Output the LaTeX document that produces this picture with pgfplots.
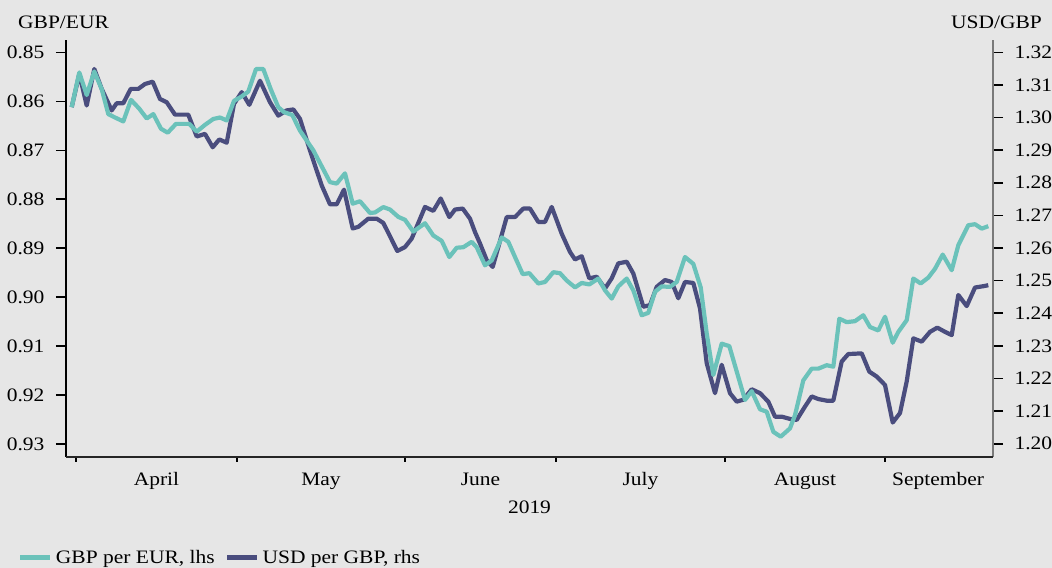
\documentclass[border=0pt]{standalone}
\usepackage{fontspec}
\setmainfont{Liberation Serif}[FakeStretch=1.13]
\usepackage{pgfplots}
\pgfplotsset{compat=1.18}
\definecolor{bgc}{HTML}{E6E6E6}
\definecolor{tealc}{HTML}{6BC2BA}
\definecolor{navyc}{HTML}{4A4D7E}
\definecolor{raxis}{HTML}{7A7A7A}
\pgfplotsset{
  common/.style={
    at={(66bp,111bp)}, anchor=south west,
    width=927bp, height=417bp, scale only axis,
    xmin=66, xmax=993,
    tick align=outside,
    major tick length=10bp,
    tick style={line width=1.6bp, black},
    axis line style={line width=1.4bp, -},
    clip=false,
  },
}
\begin{document}
\fontsize{19bp}{23bp}\selectfont
\begin{tikzpicture}
\fill[bgc] (0,0) rectangle (1052bp,568bp);
\useasboundingbox (0,0) rectangle (1052bp,568bp);
% right axis: USD per GBP
\begin{axis}[common,
  axis x line=none, axis y line*=right,
  axis line style={raxis},
  ymin=1.19593, ymax=1.32379,
  ytick={1.20,1.21,1.22,1.23,1.24,1.25,1.26,1.27,1.28,1.29,1.30,1.31,1.32},
  yticklabel style={xshift=5bp, /pgf/number format/fixed, /pgf/number format/fixed zerofill, /pgf/number format/precision=2, /pgf/number format/assume math mode=true},
  legend style={at={(axis description cs:-0.052,-0.242)}, anchor=west, draw=none, fill=none,
    inner sep=0pt, legend columns=2,
    /tikz/every even column/.append style={column sep=7bp},
    nodes={inner sep=3bp}},
  legend image code/.code={\draw[#1, line width=5bp] (0bp,0bp) -- (30bp,0bp);},
]
\addlegendimage{tealc}
\addlegendentry{GBP per EUR, lhs}
\addplot[navyc, line width=4.2bp, line join=round] coordinates {
(71.7,1.3032) (79.3,1.3134) (86.7,1.3037) (94.3,1.3149) (101.7,1.3088) (111.7,1.3022)
(116.7,1.3044) (123.3,1.3044) (130.7,1.3088) (138.3,1.3088) (145,1.3103) (152.7,1.3110)
(160,1.3057) (166.7,1.3047) (175,1.3009) (188.3,1.3009) (196.7,1.2942) (205,1.2950)
(212.7,1.2909) (219.3,1.2933) (226.7,1.2923) (234,1.3042) (241.7,1.3078) (249.3,1.3039)
(260,1.3113) (270,1.3047) (278.3,1.3006) (286.7,1.3022) (293.3,1.3025) (300,1.2996)
(310,1.2899) (321.7,1.2792) (330,1.2734) (336.7,1.2734) (344,1.2779) (352.7,1.2660)
(358.3,1.2665) (368.3,1.2690) (376.7,1.2690) (383.3,1.2677) (390,1.2636) (397.3,1.2591)
(405,1.2603) (411.7,1.2629) (418.3,1.2677) (425,1.2726) (433.3,1.2714) (440.7,1.2752)
(449.3,1.2695) (455,1.2718) (462.7,1.2721) (470,1.2690) (475,1.2649) (480,1.2614)
(486.7,1.2563) (492.7,1.2542) (498.3,1.2603) (506.7,1.2695) (515,1.2695) (523.3,1.2721)
(530,1.2721) (538.3,1.2680) (545,1.2680) (551.7,1.2726) (561.7,1.2644) (570,1.2588)
(575,1.2565) (581.7,1.2575) (589.3,1.2507) (596.7,1.2512) (605,1.2476) (611.7,1.2507)
(618.3,1.2553) (626.7,1.2558) (633.3,1.2522) (643.3,1.2420) (650,1.2425) (656.7,1.2481)
(665,1.2502) (671.7,1.2496) (678.3,1.2446) (685,1.2496) (693.3,1.2493) (700,1.2415)
(706.7,1.2247) (715,1.2155) (721.7,1.2242) (730,1.2155) (736.7,1.2129) (743.3,1.2135)
(751.7,1.2167) (760,1.2155) (768.3,1.2129) (775,1.2083) (781.7,1.2083) (790,1.2076)
(796.7,1.2073) (805,1.2114) (811.7,1.2145) (818.3,1.2137) (826.7,1.2132) (833.3,1.2132)
(841.7,1.2252) (848.3,1.2275) (861.7,1.2277) (869.3,1.2221) (876.7,1.2206) (885,1.2180)
(892.7,1.2065) (900,1.2094) (906.7,1.2191) (913.3,1.2323) (921.7,1.2313) (930,1.2343)
(937.3,1.2356) (945,1.2343) (951.7,1.2333) (958.3,1.2456) (966.7,1.2422) (975,1.2479)
(983.3,1.2483) (988.3,1.2486)
};
\addlegendentry{USD per GBP, rhs}
\end{axis}
% left axis: GBP per EUR (inverted)
\begin{axis}[common,
  axis x line=none, axis y line*=left,
  axis line style={black},
  y dir=reverse,
  ymin=0.84747, ymax=0.93265,
  ytick={0.85,0.86,0.87,0.88,0.89,0.90,0.91,0.92,0.93},
  yticklabel style={xshift=-5bp, /pgf/number format/fixed, /pgf/number format/fixed zerofill, /pgf/number format/precision=2, /pgf/number format/assume math mode=true},
]
\addplot[tealc, line width=4.2bp, line join=round] coordinates {
(71.7,0.8612) (79.3,0.8541) (86.7,0.8587) (94.3,0.8539) (101.7,0.8575) (108.3,0.8626)
(115,0.8633) (123.3,0.8641) (131,0.8597) (139.3,0.8615) (146.7,0.8635) (153.3,0.8626)
(161,0.8656) (167.7,0.8664) (176,0.8646) (189.3,0.8646) (196.7,0.8662) (205,0.8648)
(213.3,0.8636) (220,0.8633) (226.7,0.8639) (234,0.8599) (241.7,0.8590) (248.3,0.8580)
(256,0.8534) (263.3,0.8534) (270.7,0.8575) (278.3,0.8612) (284,0.8622) (292.3,0.8628)
(300,0.8660) (313.3,0.8700) (330,0.8765) (336.7,0.8768) (345,0.8747) (352.7,0.8809)
(360,0.8804) (370,0.8828) (375,0.8827) (383.3,0.8816) (390,0.8821) (398.3,0.8836)
(405,0.8842) (413.3,0.8866) (425,0.8849) (433.3,0.8874) (441.7,0.8885) (449.3,0.8918)
(456.7,0.8899) (463.3,0.8898) (471.7,0.8887) (476.7,0.8898) (485,0.8935) (491.7,0.8925)
(501.7,0.8878) (508.3,0.8887) (515,0.8918) (522.7,0.8953) (529.3,0.8951) (538.3,0.8972)
(545,0.8969) (553.3,0.8949) (560,0.8951) (566.7,0.8966) (575,0.8980) (581.7,0.8971)
(589.3,0.8974) (598.3,0.8962) (605,0.8986) (611.7,0.9003) (618.3,0.8978) (626.7,0.8962)
(633.3,0.8986) (641.7,0.9037) (648.3,0.9032) (655,0.8989) (661.7,0.8978) (670,0.8979)
(676.7,0.8969) (685,0.8918) (693.3,0.8932) (700.7,0.8980) (706.7,0.9074) (713.3,0.9159)
(721.7,0.9095) (729.3,0.9100) (738.3,0.9163) (745,0.9210) (751.7,0.9192) (760,0.9229)
(766.7,0.9234) (773.3,0.9275) (780.7,0.9285) (790,0.9268) (795,0.9241) (803.3,0.9170)
(811.7,0.9146) (818.3,0.9146) (826.7,0.9139) (833.3,0.9142) (839.3,0.9044) (846.7,0.9051)
(855,0.9049) (863.3,0.9037) (870,0.9061) (878.3,0.9068) (885,0.9040) (892.7,0.9093)
(898.3,0.9071) (906.7,0.9047) (913.3,0.8962) (920.7,0.8972) (928.3,0.8960) (935,0.8942)
(942.7,0.8913) (951.7,0.8945) (958.3,0.8894) (968.3,0.8853) (975,0.8851) (981.7,0.8860)
(988.3,0.8855)
};
\end{axis}
% x axis
\begin{axis}[common,
  axis y line=none, axis x line*=bottom,
  axis line style={black!85},
  ymin=0, ymax=1,
  major tick length=5bp,
  xtick={76,237,405,556,725,885}, xticklabels={},
  extra x ticks={156.5,321,480.5,640.5,805,938},
  extra x tick labels={April,May,June,July,August,September},
  extra x tick style={major tick length=0pt},
  xticklabel style={anchor=base, yshift=-29bp},
  xlabel={2019},
  xlabel style={at={(axis description cs:0.5,-0.12)}, anchor=center},
]
\end{axis}
\node[anchor=base west, inner sep=0pt] at (18bp,539bp) {GBP/EUR};
\node[anchor=base east, inner sep=0pt] at (1042bp,539bp) {USD/GBP};
\end{tikzpicture}
\end{document}
